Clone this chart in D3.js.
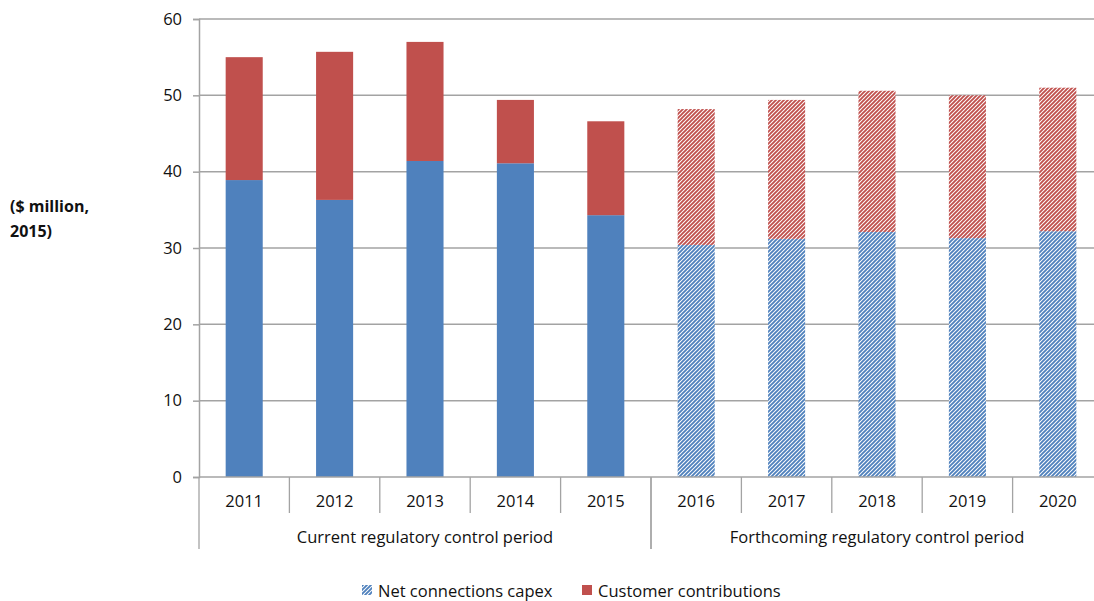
<!DOCTYPE html>
<html>
<head>
<meta charset="utf-8">
<script src="https://cdn.jsdelivr.net/npm/d3@7"></script>
<style>
  html, body { margin: 0; padding: 0; background: #fff; }
  svg { display: block; font-family: "Open Sans", "Noto Sans", sans-serif; }
</style>
</head>
<body>
<svg id="chart" width="1094" height="601"></svg>
<script>
// Connections capex by year, $ million (2015)
const years = ["2011","2012","2013","2014","2015","2016","2017","2018","2019","2020"];
const netCapex = [38.9, 36.3, 41.4, 41.1, 34.3, 30.4, 31.2, 32.1, 31.3, 32.2];
const customerContrib = [16.1, 19.4, 15.6, 8.3, 12.3, 17.8, 18.2, 18.5, 18.7, 18.8];
const forecast = [false, false, false, false, false, true, true, true, true, true];
const periods = [
  { label: "Current regulatory control period", from: 0, to: 5 },
  { label: "Forthcoming regulatory control period", from: 5, to: 10 }
];
const yTicks = [0, 10, 20, 30, 40, 50, 60];
const seriesNames = ["Net connections capex", "Customer contributions"];
const colors = { blue: "#4f81bd", red: "#c0504d" };

const svg = d3.select("#chart");
const margin = { left: 199, right: 1103, top: 19, bottom: 477 };
const gridColor = "#a3a3a3";
const textColor = "#111";
const fs = 16.5;

const x = d3.scaleBand().domain(years).range([margin.left, margin.right]).paddingInner(0.59).paddingOuter(0.295);
const xCat = d3.scaleBand().domain(years).range([margin.left, margin.right]);
const y = d3.scaleLinear().domain([0, 60]).range([margin.bottom, margin.top]);

// hatch patterns for forecast years
const defs = svg.append("defs");
[["hatchBlue", colors.blue], ["hatchRed", colors.red]].forEach(([id, c]) => {
  const p = defs.append("pattern").attr("id", id).attr("patternUnits", "userSpaceOnUse")
    .attr("width", 4).attr("height", 4);
  p.append("rect").attr("width", 4).attr("height", 4).attr("fill", "#fff");
  p.append("path").attr("d", "M-1,1 L1,-1 M0,4 L4,0 M3,5 L5,3")
    .attr("stroke", c).attr("stroke-width", 1.9).attr("fill", "none");
});

// gridlines
svg.append("g").selectAll("line").data(yTicks.filter(d => d > 0)).join("line")
  .attr("x1", margin.left).attr("x2", margin.right)
  .attr("y1", d => y(d)).attr("y2", d => y(d))
  .attr("stroke", gridColor).attr("stroke-width", 1.5);

// y axis
const yAxis = svg.append("g").attr("transform", `translate(${margin.left},0)`)
  .call(d3.axisLeft(y).tickValues(yTicks).tickSize(6).tickPadding(11));
yAxis.select(".domain").attr("stroke", gridColor).attr("stroke-width", 1.5);
yAxis.selectAll(".tick line").attr("stroke", gridColor).attr("stroke-width", 1.5);
yAxis.selectAll(".tick text").attr("font-size", fs).attr("fill", textColor)
  .attr("font-family", "'Open Sans', sans-serif");

// stacked bars
const stack = years.map((yr, i) => ({ yr, base: netCapex[i], top: customerContrib[i], f: forecast[i] }));
const bars = svg.append("g");
bars.selectAll("rect.net").data(stack).join("rect").attr("class", "net")
  .attr("x", d => x(d.yr)).attr("width", x.bandwidth())
  .attr("y", d => y(d.base)).attr("height", d => y(0) - y(d.base))
  .attr("fill", d => d.f ? "url(#hatchBlue)" : colors.blue);
bars.selectAll("rect.cc").data(stack).join("rect").attr("class", "cc")
  .attr("x", d => x(d.yr)).attr("width", x.bandwidth())
  .attr("y", d => y(d.base + d.top)).attr("height", d => y(d.base) - y(d.base + d.top))
  .attr("fill", d => d.f ? "url(#hatchRed)" : colors.red);

// x axis baseline
svg.append("line").attr("x1", margin.left).attr("x2", margin.right)
  .attr("y1", y(0)).attr("y2", y(0)).attr("stroke", gridColor).attr("stroke-width", 1.5);

// category separators and labels
const sepG = svg.append("g");
years.forEach((yr, i) => {
  if (i > 0 && i % 5 !== 0) {
    sepG.append("line").attr("x1", xCat(yr)).attr("x2", xCat(yr))
      .attr("y1", y(0)).attr("y2", y(0) + 36).attr("stroke", gridColor).attr("stroke-width", 1.3);
  }
});
periods.forEach(p => {
  [p.from, p.to].forEach(k => {
    const xx = k < years.length ? xCat(years[k]) : margin.right;
    sepG.append("line").attr("x1", xx).attr("x2", xx)
      .attr("y1", y(0)).attr("y2", y(0) + 72).attr("stroke", gridColor).attr("stroke-width", 1.3);
  });
  const cx = (xCat(years[p.from]) + xCat(years[p.to - 1]) + xCat.bandwidth()) / 2;
  svg.append("text").attr("x", cx).attr("y", 543).attr("text-anchor", "middle")
    .attr("font-size", fs).attr("fill", textColor).text(p.label);
});
svg.append("g").selectAll("text").data(years).join("text")
  .attr("x", d => xCat(d) + xCat.bandwidth() / 2).attr("y", 507)
  .attr("text-anchor", "middle").attr("font-size", fs).attr("fill", textColor).text(d => d);

// y axis title
const yt = svg.append("text").attr("font-size", 16).attr("font-weight", "bold").attr("fill", textColor);
yt.append("tspan").attr("x", 10).attr("y", 212).text("($ million,");
yt.append("tspan").attr("x", 10).attr("y", 237).text("2015)");

// legend
const leg = svg.append("g");
leg.append("rect").attr("x", 362).attr("y", 585).attr("width", 10).attr("height", 10).attr("fill", "url(#hatchBlue)");
leg.append("text").attr("x", 378).attr("y", 597).attr("font-size", fs).attr("fill", textColor).text(seriesNames[0]);
leg.append("rect").attr("x", 582).attr("y", 585).attr("width", 10).attr("height", 10).attr("fill", colors.red);
leg.append("text").attr("x", 598).attr("y", 597).attr("font-size", fs).attr("fill", textColor).text(seriesNames[1]);
</script>
</body>
</html>
